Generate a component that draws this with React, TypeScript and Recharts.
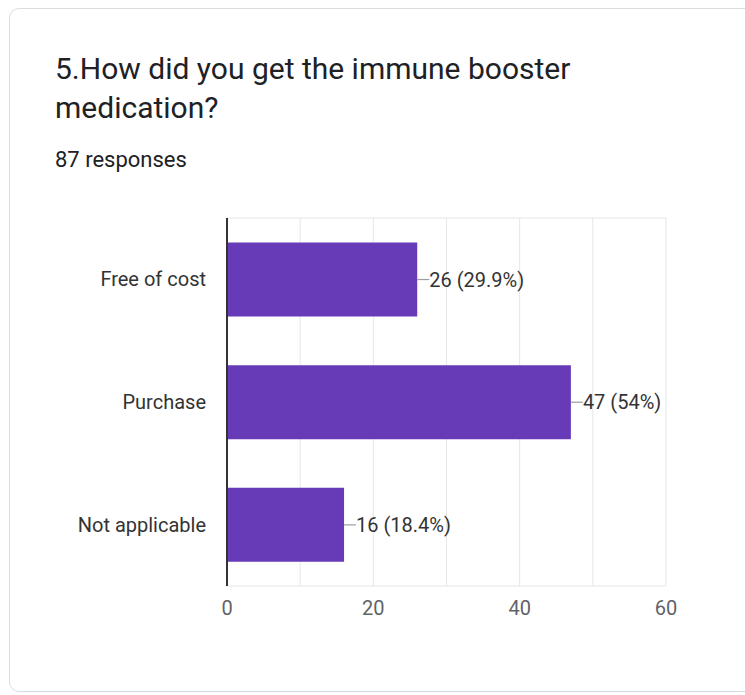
import React from 'react';
import { BarChart, Bar, XAxis, YAxis, CartesianGrid, LabelList } from 'recharts';

const categories = ['Free of cost', 'Purchase', 'Not applicable'];
const counts = [26, 47, 16];
const percents = ['29.9%', '54%', '18.4%'];
const xTicks = [0, 10, 20, 30, 40, 50, 60];

const data = categories.map((name, i) => ({ name, count: counts[i], pct: percents[i] }));

const FONT = 'Roboto, "Noto Sans", Arial, sans-serif';

const BarValueLabel = (props: any) => {
  const { x, y, width, height, index } = props;
  const endX = x + width;
  const midY = y + height / 2;
  return (
    <g>
      <line x1={endX} y1={midY} x2={endX + 12} y2={midY} stroke="#9e9e9e" strokeWidth={1.2} />
      <text x={endX + 12} y={midY} dy="0.35em" fill="#333" fontSize={20} fontFamily={FONT}>
        {`${counts[index]} (${percents[index]})`}
      </text>
    </g>
  );
};

export default function App() {
  return (
    <div style={{ position: 'absolute', left: 0, top: 0, width: 745, height: 695, background: '#fff', overflow: 'hidden' }}>
      <div
        style={{
          position: 'absolute',
          left: 9,
          top: 8,
          width: 780,
          height: 684,
          border: '1px solid #dadce0',
          borderRadius: 10,
          boxSizing: 'border-box',
        }}
      />
      <div
        style={{
          position: 'absolute',
          left: 55,
          top: 49,
          fontFamily: FONT,
          fontSize: 30,
          lineHeight: '39px',
          color: '#202124',
        }}
      >
        5.How did you get the immune booster
        <br />
        medication?
      </div>
      <div
        style={{
          position: 'absolute',
          left: 55,
          top: 147,
          fontFamily: FONT,
          fontSize: 22,
          lineHeight: '26px',
          color: '#202124',
        }}
      >
        87 responses
      </div>
      <div style={{ position: 'absolute', left: 0, top: 0 }}>
        <BarChart
          width={745}
          height={695}
          data={data}
          layout="vertical"
          margin={{ top: 218, right: 79, bottom: 79, left: 27 }}
          barCategoryGap="20%"
        >
          <CartesianGrid
            stroke="#e6e6e6"
            horizontalCoordinatesGenerator={({ offset }: any) => [offset.top, offset.top + offset.height]}
          />
          <XAxis
            type="number"
            domain={[0, 60]}
            ticks={xTicks}
            tickFormatter={(v: number) => (v % 20 === 0 ? String(v) : '')}
            axisLine={false}
            tickLine={false}
            tickSize={0}
            tickMargin={15}
            height={30}
            tick={{ fontSize: 20, fill: '#5f6368', fontFamily: FONT }}
          />
          <YAxis
            type="category"
            dataKey="name"
            width={200}
            axisLine={{ stroke: '#333', strokeWidth: 2 }}
            tickLine={false}
            tickSize={0}
            tickMargin={21}
            tick={{ fontSize: 20, fill: '#333', fontFamily: FONT }}
          />
          <Bar dataKey="count" fill="#673ab7" isAnimationActive={false}>
            <LabelList dataKey="count" content={<BarValueLabel />} />
          </Bar>
        </BarChart>
      </div>
    </div>
  );
}
